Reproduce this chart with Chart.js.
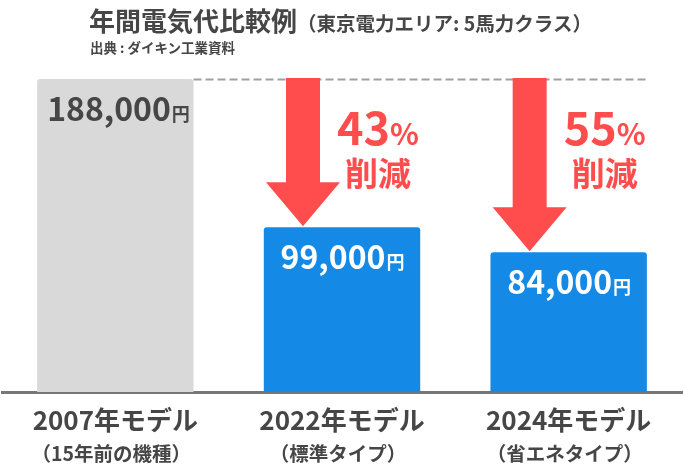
<!DOCTYPE html>
<html lang="ja">
<head>
<meta charset="utf-8">
<script src="https://cdn.jsdelivr.net/npm/chart.js@4"></script>
<style>
  body { margin: 0; background: #fff; }
  .wrap { position: relative; width: 684px; height: 466px; font-family: "Noto Sans CJK JP", "Noto Sans", sans-serif; }
  .title { position: absolute; left: 89px; top: 2px; color: #464646; font-weight: 700; font-size: 26px; white-space: nowrap; line-height: 36px; }
  .title small { font-size: 19.5px; }
  .source { position: absolute; left: 90px; top: 37px; color: #464646; font-weight: 700; font-size: 13.5px; white-space: nowrap; }
  canvas { position: absolute; left: 0; top: 0; }
</style>
</head>
<body>
<div class="wrap">
  <canvas id="costChart" width="684" height="466"></canvas>
  <div class="title">年間電気代比較例<small>（東京電力エリア: 5馬力クラス）</small></div>
  <div class="source">出典 : ダイキン工業資料</div>
</div>
<script>
const categories = ['2007年モデル', '2022年モデル', '2024年モデル'];
const subLabels  = ['（15年前の機種）', '（標準タイプ）', '（省エネタイプ）'];
const costs      = [188000, 99000, 84000];   // 円 / 年
const reductions = [null, 43, 55];           // % 削減 vs 2007

const FONT = '"Noto Sans CJK JP", "Noto Sans", sans-serif';
const RED = '#ff4d4d';
const DARK = '#464646';

// 数値 + 小さい「円」
function drawYen(ctx, value, x, y, align, color) {
  const num = value.toLocaleString('en-US');
  ctx.font = `700 32px ${FONT}`;
  const w1 = ctx.measureText(num).width;
  ctx.font = `700 18px ${FONT}`;
  const w2 = ctx.measureText('円').width;
  let left = align === 'left' ? x : x - (w1 + w2) / 2;
  ctx.fillStyle = color;
  ctx.textBaseline = 'alphabetic';
  ctx.textAlign = 'left';
  ctx.font = `700 32px ${FONT}`;
  ctx.fillText(num, left, y + 11);
  ctx.font = `700 18px ${FONT}`;
  ctx.fillText('円', left + w1 + 1, y + 11);
}

const overlay = {
  id: 'overlay',
  afterDatasetsDraw(chart) {
    const { ctx, scales: { x, y } } = chart;
    const bars = chart.getDatasetMeta(0).data;
    const topY = y.getPixelForValue(costs[0]);

    ctx.save();
    // 基準の点線
    ctx.setLineDash([8, 4]);
    ctx.strokeStyle = '#a0a0a0';
    ctx.lineWidth = 2;
    ctx.beginPath();
    ctx.moveTo(bars[0].x + bars[0].width / 2, topY + 0.5);
    ctx.lineTo(bars[2].x + bars[2].width / 2, topY + 0.5);
    ctx.stroke();
    ctx.setLineDash([]);

    // 矢印と削減率
    reductions.forEach((r, i) => {
      if (r == null) return;
      const cx = x.getPixelForValue(i) - 39;
      const tip = y.getPixelForValue(costs[i]) - 1;
      const headTop = tip - 44;
      ctx.fillStyle = RED;
      ctx.beginPath();
      ctx.moveTo(cx - 17, topY - 1);
      ctx.lineTo(cx + 17, topY - 1);
      ctx.lineTo(cx + 17, headTop);
      ctx.lineTo(cx + 37, headTop);
      ctx.lineTo(cx, tip);
      ctx.lineTo(cx - 37, headTop);
      ctx.lineTo(cx - 17, headTop);
      ctx.closePath();
      ctx.fill();

      const tx = x.getPixelForValue(i) + 36;
      ctx.textBaseline = 'alphabetic';
      ctx.textAlign = 'left';
      ctx.font = `700 45px ${FONT}`;
      const n = String(r);
      const wn = ctx.measureText(n).width;
      ctx.font = `700 30px ${FONT}`;
      const wp = ctx.measureText('%').width;
      const left = tx - (wn + wp) / 2;
      ctx.font = `700 45px ${FONT}`;
      ctx.fillText(n, left, topY + 66);
      ctx.font = `700 30px ${FONT}`;
      ctx.fillText('%', left + wn, topY + 66);
      ctx.font = `700 33px ${FONT}`;
      ctx.textAlign = 'center';
      ctx.textBaseline = 'middle';
      ctx.fillText('削減', tx, topY + 94);
    });

    // 棒の中の金額
    costs.forEach((v, i) => {
      const b = bars[i];
      const by = y.getPixelForValue(v) + 31;
      if (i === 0) drawYen(ctx, v, b.x - b.width / 2 + 10, by, 'left', DARK);
      else drawYen(ctx, v, b.x, by, 'center', '#ffffff');
    });

    // カテゴリラベル（2行）
    ctx.fillStyle = DARK;
    ctx.textAlign = 'center';
    ctx.textBaseline = 'middle';
    const base = y.getPixelForValue(0);
    categories.forEach((c, i) => {
      const px = x.getPixelForValue(i);
      ctx.font = `700 26px ${FONT}`;
      ctx.fillText(c, px, base + 28);
      ctx.font = `700 19.5px ${FONT}`;
      ctx.fillText(subLabels[i], px - 4, base + 62);
    });
    ctx.restore();
  },
};

new Chart(document.getElementById('costChart'), {
  type: 'bar',
  data: {
    labels: categories,
    datasets: [{
      data: costs,
      backgroundColor: ['#d9d9d9', '#1589e6', '#1589e6'],
      borderWidth: 0,
      borderRadius: { topLeft: 3, topRight: 3 },
      borderSkipped: 'bottom',
      categoryPercentage: 1,
      barPercentage: 0.69,
    }],
  },
  options: {
    responsive: false,
    animation: false,
    layout: { padding: { top: 79, bottom: 74, left: 2, right: 2 } },
    plugins: { legend: { display: false }, tooltip: { enabled: false } },
    scales: {
      x: {
        grid: { display: false, drawTicks: false },
        border: { display: true, color: '#777777', width: 3 },
        ticks: { display: false },
      },
      y: {
        display: false,
        min: 0,
        max: costs[0],
      },
    },
  },
  plugins: [overlay],
});
</script>
</body>
</html>
